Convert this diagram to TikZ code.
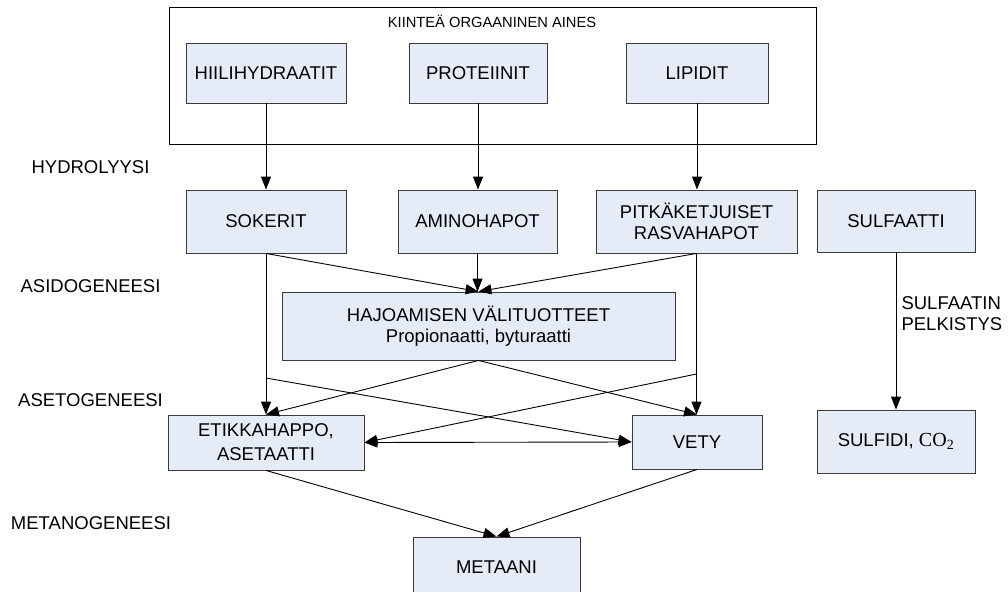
\documentclass[tikz,border=0pt]{standalone}
\usepackage{fontspec}
\setmainfont{Liberation Sans}
\newfontfamily\timesf{Liberation Serif}
\usetikzlibrary{arrows.meta}
\definecolor{boxfill}{HTML}{E6ECF7}
\definecolor{boxline}{HTML}{3A3A3A}
\begin{document}
\begin{tikzpicture}[x=1pt,y=-1pt,
  bx/.style={draw=boxline, fill=boxfill, line width=0.9pt, inner sep=0pt,
    font=\fontsize{18.5}{20.5}\selectfont, align=center},
  arr/.style={-{Triangle[length=13pt,width=10pt]}, line width=0.9pt},
  dbl/.style={{Triangle[length=13pt,width=10pt]}-{Triangle[length=13pt,width=10pt]}, line width=0.9pt},
  stage/.style={font=\fontsize{18.5}{20.5}\selectfont}]
\useasboundingbox (0,0) rectangle (1008,591);
% outer group
\node[draw, line width=1pt, minimum width=647pt, minimum height=136pt] (outer) at (492.5,76) {};
\node[font=\fontsize{14.7}{16}\selectfont] (kiintea) at (492,21) {KIINTEÄ ORGAANINEN AINES};
\node[bx, minimum width=160pt, minimum height=60pt] (hiili) at (266,73) {HIILIHYDRAATIT};
\node[bx, minimum width=138pt, minimum height=60pt] (prot) at (478,73) {PROTEIINIT};
\node[bx, minimum width=142pt, minimum height=60pt] (lip) at (697,73) {LIPIDIT};
% second row
\node[bx, minimum width=160pt, minimum height=63pt] (sok) at (266,221.5) {SOKERIT};
\node[bx, minimum width=159pt, minimum height=63pt] (amino) at (477.5,221.5) {AMINOHAPOT};
\node[bx, minimum width=201pt, minimum height=63pt] (pitka) at (696.5,221.5) {PITKÄKETJUISET\\RASVAHAPOT};
\node[bx, minimum width=158pt, minimum height=62pt] (sulfaatti) at (896,221) {SULFAATTI};
% middle
\node[bx, minimum width=393pt, minimum height=68pt] (hajo) at (478.5,326) {HAJOAMISEN VÄLITUOTTEET\\Propionaatti, byturaatti};
\node[bx, minimum width=196pt, minimum height=55pt, font=\fontsize{18.5}{24}\selectfont] (etikka) at (266,442.5) {ETIKKAHAPPO,\\ASETAATTI};
\node[bx, minimum width=130pt, minimum height=54pt] (vety) at (697,442) {VETY};
\node[bx, minimum width=158pt, minimum height=63pt] (sulfidi) at (896,441.5) {SULFIDI, {\timesf\fontsize{20}{22}\selectfont CO\textsubscript{2}}};
\node[bx, minimum width=167pt, minimum height=61pt] (metaani) at (496.5,567.5) {METAANI};
% stage labels
\node[stage] (hyd) at (90.5,167) {HYDROLYYSI};
\node[stage] (asi) at (90.5,286) {ASIDOGENEESI};
\node[stage] (ase) at (90.5,400) {ASETOGENEESI};
\node[stage] (met) at (91,523) {METANOGENEESI};
\node[stage, anchor=west, align=left, font=\fontsize{18.5}{21}\selectfont] (pelk) at (898,313.5) {SULFAATIN\\PELKISTYS};
% connectors
\draw[arr] (hiili.south) -- (hiili.south |- sok.north);
\draw[arr] (prot.south) -- (prot.south |- amino.north);
\draw[arr] (lip.south) -- (lip.south |- pitka.north);
\draw[arr] (sok.south) -- (hajo.north);
\draw[arr] (amino.south) -- (amino.south |- hajo.north);
\draw[arr] (pitka.south) -- (hajo.north);
\draw[arr] (sok.south) -- (sok.south |- etikka.north);
\draw[arr] (pitka.south) -- (pitka.south |- vety.north);
\coordinate (sb) at (266,378);
\coordinate (pb) at (696.5,374);
\draw[arr] (sb) -- (vety.west);
\draw[arr] (pb) -- (etikka.east);
\draw[arr] (hajo.south) -- (etikka.north);
\draw[arr] (hajo.south) -- (vety.north);
\draw[dbl] (etikka.east) -- (vety.west);
\draw[arr] (etikka.south) -- (metaani.north);
\draw[arr] (vety.south) -- (metaani.north);
\draw[arr] (sulfaatti.south) -- (sulfidi.north);
\end{tikzpicture}
\end{document}
